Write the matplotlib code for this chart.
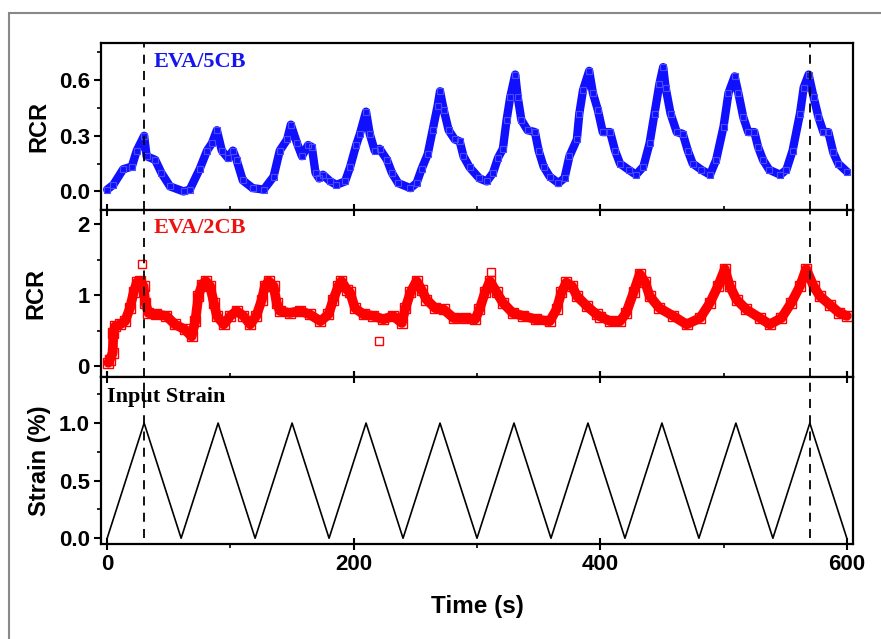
import numpy as np
import matplotlib.pyplot as plt
from matplotlib.patches import Rectangle
from matplotlib.ticker import MultipleLocator

# blue curve (EVA/5CB)
blue_t = [0, 5, 13, 20, 24, 30, 32, 39, 44, 51,
          62, 67, 75, 81, 85, 89, 93, 98, 102, 105,
          110, 118, 127, 135, 140, 146, 149, 154, 158, 163,
          166, 169, 172, 175, 181, 186, 193, 197, 202, 205,
          210, 213, 217, 221, 227, 231, 236, 246, 251, 255,
          260, 264, 268, 270, 273, 277, 282, 286, 289, 294,
          302, 308, 313, 317, 321, 324, 327, 331, 333, 336,
          341, 347, 350, 354, 359, 366, 371, 375, 381, 383,
          386, 391, 394, 398, 402, 408, 412, 416, 423, 429,
          435, 440, 444, 448, 451, 453, 457, 462, 467, 471,
          475, 482, 489, 494, 500, 504, 509, 512, 516, 520,
          525, 528, 532, 537, 546, 551, 556, 562, 565, 569,
          573, 577, 581, 585, 589, 593, 600]
blue_v = [0.01, 0.036, 0.12, 0.134, 0.22, 0.30, 0.19, 0.17, 0.10, 0.027,
          0.0, 0.01, 0.12, 0.22, 0.26, 0.33, 0.22, 0.18, 0.22, 0.17,
          0.06, 0.018, 0.01, 0.08, 0.22, 0.28, 0.36, 0.26, 0.19, 0.25,
          0.24, 0.10, 0.07, 0.09, 0.054, 0.036, 0.054, 0.13, 0.25, 0.31,
          0.43, 0.31, 0.22, 0.23, 0.17, 0.10, 0.045, 0.018, 0.045, 0.12,
          0.20, 0.33, 0.46, 0.54, 0.44, 0.33, 0.28, 0.27, 0.19, 0.13,
          0.07, 0.054, 0.10, 0.18, 0.23, 0.385, 0.51, 0.63, 0.51, 0.385,
          0.33, 0.32, 0.22, 0.134, 0.08, 0.045, 0.072, 0.19, 0.28, 0.42,
          0.546, 0.65, 0.53, 0.44, 0.32, 0.32, 0.22, 0.15, 0.117, 0.09,
          0.134, 0.26, 0.42, 0.58, 0.67, 0.56, 0.42, 0.32, 0.31, 0.22,
          0.15, 0.117, 0.09, 0.17, 0.35, 0.53, 0.62, 0.53, 0.40, 0.32,
          0.32, 0.24, 0.17, 0.117, 0.09, 0.117, 0.22, 0.42, 0.56, 0.63,
          0.51, 0.40, 0.32, 0.32, 0.21, 0.15, 0.107]

# red curve (EVA/2CB)
red_t = [1, 2, 4.5, 5, 6.5, 10.5, 14.5, 18.5, 21.5, 24,
         27, 29.5, 31, 33.5, 40, 48, 55, 63, 68.5, 71.5,
         74, 77, 80, 83.5, 86.5, 89, 94.5, 100, 105, 110.5,
         116, 121, 125.5, 128, 131, 135, 137.5, 140, 148, 156.5,
         164.5, 173, 179.5, 183.5, 187.5, 190, 194.5, 197, 201, 208,
         216, 224, 232, 239, 242, 246, 251, 255, 259, 266,
         273, 281, 290.5, 298.5, 302, 306.5, 310.5, 316, 321, 329,
         337.5, 348, 359, 364.5, 368.5, 372.5, 377, 381, 389, 397,
         400, 408, 416, 421, 427, 432, 436.5, 440, 448, 459,
         470, 481, 489, 495.5, 501, 505, 510.5, 518.5, 529.5, 537.5,
         547, 555, 562, 567, 573, 578, 586, 594, 600]
red_v = [0.05, 0.09, 0.19, 0.47, 0.565, 0.59, 0.635, 0.82, 1.04, 1.18,
         1.20, 1.13, 0.895, 0.75, 0.73, 0.71, 0.59, 0.52, 0.42, 0.635,
         0.99, 1.15, 1.20, 1.13, 0.895, 0.71, 0.59, 0.71, 0.78, 0.71,
         0.59, 0.71, 0.94, 1.13, 1.20, 1.13, 0.895, 0.78, 0.75, 0.78,
         0.73, 0.635, 0.73, 0.94, 1.13, 1.20, 1.08, 1.04, 0.82, 0.73,
         0.71, 0.66, 0.71, 0.61, 0.82, 1.04, 1.20, 1.08, 0.94, 0.82,
         0.80, 0.68, 0.68, 0.66, 0.80, 1.04, 1.20, 1.04, 0.895, 0.75,
         0.71, 0.66, 0.635, 0.80, 1.04, 1.18, 1.13, 0.99, 0.85, 0.73,
         0.70, 0.635, 0.635, 0.75, 1.04, 1.30, 1.18, 0.99, 0.82, 0.71,
         0.59, 0.68, 0.895, 1.13, 1.37, 1.13, 0.94, 0.80, 0.68, 0.59,
         0.68, 0.895, 1.13, 1.37, 1.13, 0.99, 0.87, 0.75, 0.71]
red_out_t = [28, 220.5, 311.5]
red_out_v = [1.44, 0.36, 1.33]

# triangular input strain
strain_t = [0, 30, 60, 90, 120, 150, 180, 210, 240, 270, 300,
            330, 360, 390, 420, 450, 480, 510, 540, 570, 600]
strain_v = [0, 1, 0, 1, 0, 1, 0, 1, 0, 1, 0,
            1, 0, 1, 0, 1, 0, 1, 0, 1, 0]

marks = [30, 570]

plt.rcParams['font.family'] = ['Liberation Sans', 'DejaVu Sans']
plt.rcParams['font.weight'] = 'bold'

fig = plt.figure(figsize=(8.81, 6.39), dpi=100)
# grey frame around the whole figure
fig.patches.append(Rectangle((9 / 881, -0.1), 1.2, 1 - 13 / 639 + 0.1,
                             transform=fig.transFigure, fill=False,
                             edgecolor='#888888', lw=1.5))

left, width = 101 / 881, 752 / 881
tops = [43, 210, 377, 544]
axes = []
for i in range(3):
    b = 1 - tops[i + 1] / 639
    h = (tops[i + 1] - tops[i]) / 639
    axes.append(fig.add_axes([left, b, width, h]))
ax1, ax2, ax3 = axes

ax1.plot(blue_t, blue_v, '-', color='#1010ff', lw=6,
         solid_joinstyle='round', solid_capstyle='round')
ax1.plot(blue_t, blue_v, 's', mfc='none', mec='#4a4aff', ms=4, mew=0.8)
ax1.set_ylim(-0.1, 0.8)
ax1.yaxis.set_major_locator(MultipleLocator(0.3))
ax1.yaxis.set_minor_locator(MultipleLocator(0.15))
ax1.set_ylabel('RCR', fontsize=17, fontweight='bold', labelpad=6)
ax1.text(38, 0.7, 'EVA/5CB', color='#1515ee', fontsize=16, fontweight='bold',
         family='Liberation Serif', va='center')

ax2.plot(red_t, red_v, '-', color='red', lw=7,
         solid_joinstyle='round', solid_capstyle='round')
ax2.plot(red_t, red_v, 's', mfc='none', mec='red', ms=7, mew=1)
ax2.plot(red_out_t, red_out_v, 's', mfc='none', mec='red', ms=6, mew=1)
ax2.set_ylim(-0.15, 2.2)
ax2.yaxis.set_major_locator(MultipleLocator(1))
ax2.yaxis.set_minor_locator(MultipleLocator(0.5))
ax2.set_ylabel('RCR', fontsize=17, fontweight='bold', labelpad=22)
ax2.text(38, 1.95, 'EVA/2CB', color='#ee1111', fontsize=16, fontweight='bold',
         family='Liberation Serif', va='center')

ax3.plot(strain_t, strain_v, color='black', lw=1.2)
ax3.set_ylim(-0.05, 1.4)
ax3.yaxis.set_major_locator(MultipleLocator(0.5))
ax3.yaxis.set_minor_locator(MultipleLocator(0.25))
ax3.set_ylabel('Strain (%)', fontsize=17, fontweight='bold', labelpad=6)
ax3.set_xlabel('Time (s)', fontsize=17.5, fontweight='bold', labelpad=14)
ax3.text(0, 1.23, 'Input Strain', color='black', fontsize=16, fontweight='bold',
         family='Liberation Serif', va='center')

for ax in axes:
    ax.set_xlim(-5, 605)
    ax.xaxis.set_major_locator(MultipleLocator(200))
    ax.xaxis.set_minor_locator(MultipleLocator(100))
    for s in ax.spines.values():
        s.set_linewidth(1.6)
    ax.tick_params(axis='y', which='major', direction='out', length=5, width=1.5,
                   labelsize=16, right=False, pad=3)
    ax.tick_params(axis='y', which='minor', direction='out', length=3, width=1.2,
                   right=False)
    ax.tick_params(axis='x', which='major', direction='out', length=6, width=1.5,
                   labelsize=16)
    ax.tick_params(axis='x', which='minor', direction='out', length=3, width=1.2)
    for lab in ax.get_yticklabels() + ax.get_xticklabels():
        lab.set_fontweight('bold')

for ax in [ax2, ax3]:
    ax.tick_params(axis='x', which='both', top=True)
    ax.tick_params(axis='x', which='major', top=True, direction='inout', length=8)

ax1.tick_params(axis='x', labelbottom=False)
ax2.tick_params(axis='x', labelbottom=False)

for m in marks:
    ax1.axvline(m, color='black', ls=(0, (5, 4)), lw=1.3)
    ax2.axvline(m, color='black', ls=(0, (5, 4)), lw=1.3)
    ax3.plot([m, m], [0, 1.4], color='black', ls=(0, (5, 4)), lw=1.3)

fig.savefig('out.png', dpi=100)
